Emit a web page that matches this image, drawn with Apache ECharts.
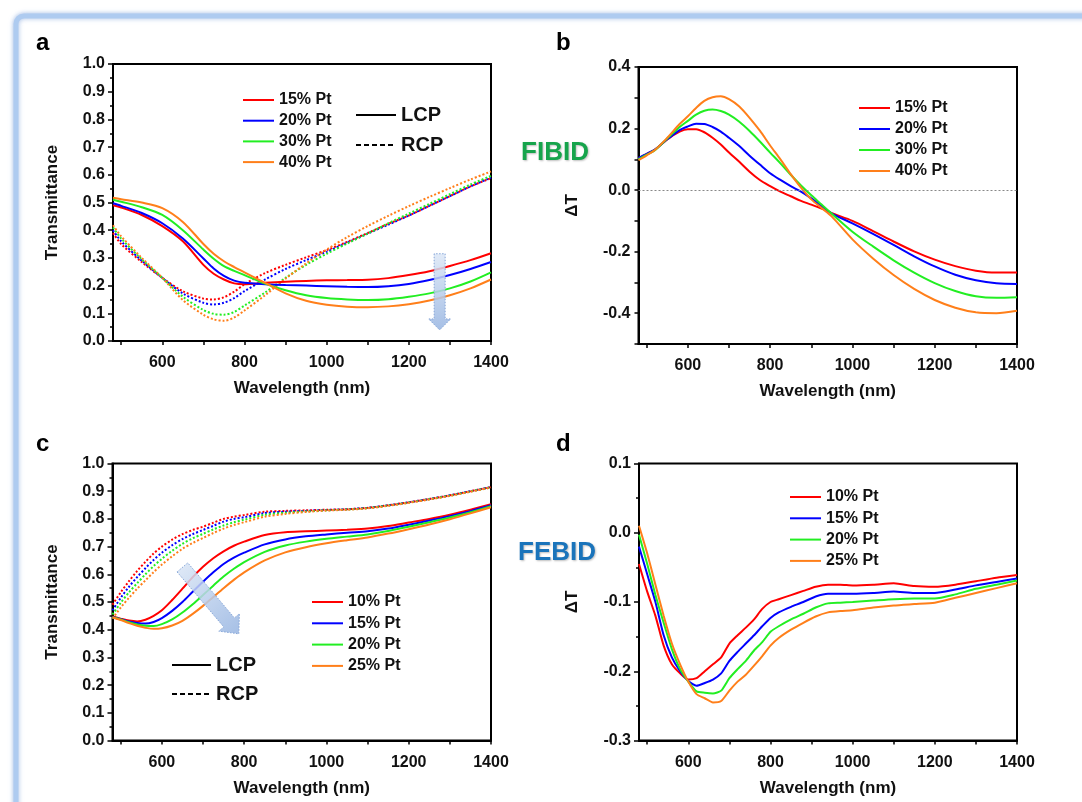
<!DOCTYPE html>
<html>
<head>
<meta charset="utf-8">
<script src="https://cdn.jsdelivr.net/npm/echarts@6/dist/echarts.min.js"></script>
<style>
html,body{margin:0;padding:0;background:#fff;}
#chart{width:1082px;height:802px;}
</style>
</head>
<body>
<div id="chart"></div>
<script>
// ---------------- DATA ----------------
// Panel a (FIBID transmittance)
const aWl = [480,500,550,600,650,700,725,750,775,800,850,900,950,1000,1050,1100,1150,1200,1250,1300,1350,1400];
const aLCP15 = [0.490,0.482,0.455,0.415,0.360,0.275,0.243,0.222,0.208,0.205,0.210,0.214,0.217,0.219,0.220,0.221,0.227,0.238,0.252,0.271,0.292,0.317];
const aLCP20 = [0.497,0.488,0.462,0.425,0.370,0.298,0.262,0.235,0.218,0.210,0.205,0.202,0.200,0.198,0.196,0.195,0.198,0.206,0.220,0.238,0.260,0.285];
const aLCP30 = [0.510,0.503,0.483,0.455,0.400,0.330,0.297,0.270,0.253,0.238,0.207,0.183,0.165,0.155,0.150,0.148,0.151,0.160,0.172,0.190,0.215,0.248];
const aLCP40 = [0.517,0.512,0.500,0.480,0.430,0.350,0.315,0.288,0.267,0.248,0.210,0.172,0.145,0.131,0.124,0.122,0.125,0.133,0.146,0.165,0.190,0.222];
const aRCP15 = [0.390,0.350,0.285,0.228,0.180,0.153,0.150,0.158,0.178,0.205,0.245,0.275,0.302,0.328,0.358,0.390,0.423,0.453,0.488,0.523,0.558,0.588];
const aRCP20 = [0.400,0.360,0.290,0.228,0.172,0.138,0.132,0.138,0.155,0.180,0.222,0.260,0.292,0.322,0.355,0.388,0.420,0.453,0.488,0.523,0.558,0.590];
const aRCP30 = [0.410,0.370,0.295,0.228,0.160,0.112,0.098,0.095,0.105,0.128,0.175,0.228,0.275,0.315,0.352,0.388,0.425,0.460,0.495,0.530,0.565,0.596];
const aRCP40 = [0.418,0.378,0.300,0.228,0.148,0.095,0.078,0.073,0.085,0.110,0.165,0.225,0.280,0.330,0.375,0.415,0.452,0.487,0.520,0.552,0.583,0.612];

// Panel b (FIBID ΔT)
const bWl = [480,500,520,550,580,600,620,640,660,680,700,725,750,775,800,825,850,875,900,925,950,1000,1050,1100,1150,1200,1250,1300,1350,1400];
const b15 = [0.103,0.118,0.132,0.165,0.190,0.198,0.198,0.188,0.170,0.148,0.122,0.092,0.060,0.033,0.013,-0.005,-0.020,-0.035,-0.047,-0.060,-0.075,-0.100,-0.133,-0.167,-0.199,-0.226,-0.247,-0.262,-0.268,-0.268];
const b20 = [0.105,0.118,0.132,0.165,0.195,0.207,0.216,0.215,0.205,0.190,0.170,0.143,0.112,0.083,0.055,0.033,0.013,-0.005,-0.027,-0.052,-0.076,-0.108,-0.142,-0.178,-0.215,-0.248,-0.275,-0.293,-0.303,-0.305];
const b30 = [0.100,0.115,0.130,0.168,0.205,0.225,0.245,0.258,0.262,0.257,0.245,0.222,0.192,0.158,0.122,0.087,0.050,0.015,-0.017,-0.047,-0.077,-0.135,-0.183,-0.228,-0.268,-0.302,-0.328,-0.345,-0.350,-0.348];
const b40 = [0.097,0.113,0.130,0.170,0.215,0.240,0.267,0.290,0.302,0.305,0.296,0.272,0.235,0.193,0.145,0.100,0.052,0.008,-0.030,-0.058,-0.086,-0.160,-0.222,-0.276,-0.321,-0.357,-0.382,-0.397,-0.400,-0.392];

// Panel c (FEBID transmittance)
const cWl = [480,500,520,540,560,580,600,625,650,675,700,725,750,775,800,850,900,950,1000,1050,1100,1150,1200,1250,1300,1350,1400];
const cLCP10 = [0.448,0.440,0.433,0.430,0.436,0.450,0.470,0.507,0.548,0.590,0.627,0.658,0.683,0.703,0.718,0.742,0.752,0.755,0.758,0.761,0.765,0.774,0.787,0.800,0.815,0.833,0.853];
const cLCP15 = [0.446,0.438,0.430,0.424,0.422,0.428,0.442,0.468,0.500,0.537,0.573,0.607,0.637,0.660,0.678,0.708,0.726,0.737,0.744,0.750,0.755,0.765,0.779,0.794,0.810,0.828,0.849];
const cLCP20 = [0.445,0.437,0.427,0.419,0.414,0.413,0.420,0.437,0.462,0.492,0.525,0.559,0.592,0.620,0.644,0.681,0.704,0.718,0.728,0.736,0.744,0.756,0.772,0.788,0.805,0.824,0.846];
const cLCP25 = [0.445,0.435,0.424,0.414,0.407,0.403,0.405,0.415,0.432,0.457,0.486,0.518,0.550,0.580,0.607,0.650,0.679,0.698,0.712,0.723,0.733,0.747,0.763,0.780,0.799,0.820,0.842];
const cRCP10 = [0.490,0.535,0.575,0.612,0.645,0.675,0.700,0.725,0.745,0.760,0.772,0.786,0.800,0.808,0.814,0.826,0.829,0.831,0.833,0.835,0.840,0.849,0.860,0.872,0.885,0.900,0.915];
const cRCP15 = [0.470,0.515,0.555,0.590,0.622,0.652,0.678,0.705,0.727,0.745,0.760,0.775,0.790,0.800,0.806,0.821,0.826,0.829,0.832,0.835,0.840,0.849,0.860,0.872,0.885,0.900,0.915];
const cRCP20 = [0.455,0.497,0.535,0.568,0.600,0.630,0.656,0.685,0.710,0.730,0.746,0.762,0.776,0.788,0.797,0.815,0.822,0.827,0.831,0.834,0.839,0.848,0.859,0.871,0.884,0.899,0.914];
const cRCP25 = [0.440,0.480,0.515,0.548,0.578,0.608,0.635,0.665,0.692,0.713,0.731,0.749,0.765,0.778,0.788,0.808,0.818,0.825,0.830,0.833,0.838,0.847,0.858,0.870,0.883,0.898,0.913];

// Panel d (FEBID ΔT)
const dWl = [480,500,520,540,560,580,600,620,640,660,680,700,720,740,760,780,800,820,850,880,910,940,970,1000,1050,1100,1150,1200,1250,1300,1350,1400];
const d10 = [-0.045,-0.085,-0.120,-0.163,-0.190,-0.203,-0.212,-0.210,-0.200,-0.190,-0.180,-0.160,-0.148,-0.137,-0.125,-0.110,-0.100,-0.096,-0.090,-0.084,-0.078,-0.075,-0.075,-0.076,-0.075,-0.073,-0.077,-0.078,-0.075,-0.070,-0.065,-0.061];
const d15 = [-0.020,-0.060,-0.100,-0.148,-0.180,-0.200,-0.214,-0.221,-0.217,-0.212,-0.203,-0.185,-0.172,-0.160,-0.148,-0.135,-0.123,-0.115,-0.107,-0.100,-0.092,-0.088,-0.088,-0.088,-0.087,-0.085,-0.087,-0.087,-0.082,-0.076,-0.071,-0.066];
const d20 = [-0.003,-0.045,-0.090,-0.130,-0.168,-0.197,-0.215,-0.229,-0.231,-0.232,-0.228,-0.210,-0.197,-0.185,-0.170,-0.158,-0.143,-0.135,-0.125,-0.117,-0.108,-0.102,-0.101,-0.100,-0.098,-0.096,-0.095,-0.095,-0.089,-0.081,-0.075,-0.069];
const d25 = [0.010,-0.030,-0.075,-0.120,-0.160,-0.190,-0.215,-0.233,-0.239,-0.245,-0.243,-0.228,-0.215,-0.205,-0.192,-0.178,-0.163,-0.152,-0.140,-0.130,-0.121,-0.115,-0.113,-0.112,-0.108,-0.105,-0.103,-0.101,-0.094,-0.087,-0.080,-0.073];

// Tick labels
const xTicks = [500,600,700,800,900,1000,1100,1200,1300,1400];
const xLabels = [600,800,1000,1200,1400];
const bYTicks = [-0.5,-0.4,-0.3,-0.2,-0.1,0,0.1,0.2,0.3,0.4];
const bYLabels = [-0.4,-0.2,0,0.2,0.4];

// Legend names
const aNames = ['15% Pt','20% Pt','30% Pt','40% Pt'];
const cNames = ['10% Pt','15% Pt','20% Pt','25% Pt'];

// Trend arrows (data coordinates: from, to)
const arrowA = [[1275, 0.315], [1275, 0.04]];
const arrowC = [[650, 0.625], [787, 0.385]];

// ---------------- STYLE ----------------
const FONT = "'Liberation Sans', Arial, sans-serif";
const COLORS = ['#ff0000', '#0000ff', '#22ee22', '#ff7f1a'];

const chart = echarts.init(document.getElementById('chart'), null, {renderer: 'canvas'});

const grids = [
  {left: 113, top: 64, width: 378, height: 277},
  {left: 638.5, top: 67, width: 378.5, height: 277},
  {left: 112.5, top: 463.5, width: 378.5, height: 277},
  {left: 639, top: 463.5, width: 378, height: 277}
].map(g => Object.assign(g, {show: true, borderColor: '#000', borderWidth: 2, backgroundColor: 'transparent'}));

function xAxis(gi) {
  return {
    type: 'value', gridIndex: gi, min: 480, max: 1400,
    name: 'Wavelength (nm)', nameLocation: 'middle', nameGap: 39,
    nameTextStyle: {fontFamily: FONT, fontWeight: 'bold', fontSize: 17, color: '#111'},
    axisLine: {onZero: false, lineStyle: {color: '#000', width: 2}},
    axisTick: {show: true, inside: false, length: 4, customValues: xTicks, lineStyle: {color: '#000', width: 1.5}},
    axisLabel: {customValues: xLabels, margin: 14, formatter: v => String(v), fontFamily: FONT, fontWeight: 'bold', fontSize: 16, color: '#111'},
    splitLine: {show: false}
  };
}
function yAxisT(gi) {
  return {
    type: 'value', gridIndex: gi, min: 0, max: 1, interval: 0.1,
    name: 'Transmittance', nameLocation: 'middle', nameGap: 52,
    nameTextStyle: {fontFamily: FONT, fontWeight: 'bold', fontSize: 17, color: '#111'},
    axisLine: {onZero: false, lineStyle: {color: '#000', width: 2}},
    axisTick: {show: true, inside: false, length: 5, lineStyle: {color: '#000', width: 1.5}},
    minorTick: {show: true, splitNumber: 2, length: 3, lineStyle: {color: '#000', width: 1.5}},
    axisLabel: {margin: 8, formatter: v => v.toFixed(1), fontFamily: FONT, fontWeight: 'bold', fontSize: 16, color: '#111'},
    splitLine: {show: false}, minorSplitLine: {show: false}
  };
}
const yAxisB = {
  type: 'value', gridIndex: 1, min: -0.5, max: 0.4,
  name: 'ΔT', nameLocation: 'middle', nameGap: 58,
  nameTextStyle: {fontFamily: FONT, fontWeight: 'bold', fontSize: 17, color: '#111'},
  axisLine: {onZero: false, lineStyle: {color: '#000', width: 2}},
  axisTick: {show: true, inside: false, length: 4, customValues: bYTicks, lineStyle: {color: '#000', width: 1.5}},
  axisLabel: {customValues: bYLabels, margin: 8, formatter: v => (Math.abs(v) < 1e-9 ? 0 : v).toFixed(1), fontFamily: FONT, fontWeight: 'bold', fontSize: 16, color: '#111'},
  splitLine: {show: false}
};
const yAxisD = {
  type: 'value', gridIndex: 3, min: -0.3, max: 0.1, interval: 0.1,
  name: 'ΔT', nameLocation: 'middle', nameGap: 58,
  nameTextStyle: {fontFamily: FONT, fontWeight: 'bold', fontSize: 17, color: '#111'},
  axisLine: {onZero: false, lineStyle: {color: '#000', width: 2}},
  axisTick: {show: true, inside: false, length: 5, lineStyle: {color: '#000', width: 1.5}},
  minorTick: {show: true, splitNumber: 2, length: 3, lineStyle: {color: '#000', width: 1.5}},
  axisLabel: {margin: 8, formatter: v => (Math.abs(v) < 1e-9 ? 0 : v).toFixed(1), fontFamily: FONT, fontWeight: 'bold', fontSize: 16, color: '#111'},
  splitLine: {show: false}, minorSplitLine: {show: false}
};

function line(name, gi, xs, ys, color, dotted, smooth) {
  return {
    type: 'line', name: name, xAxisIndex: gi, yAxisIndex: gi,
    data: xs.map((x, i) => [x, ys[i]]),
    symbol: 'none', smooth: smooth, silent: true,
    lineStyle: {color: color, width: 2, type: dotted ? [2, 2] : 'solid'},
    itemStyle: {color: color},
    emphasis: {disabled: true}
  };
}
function dummy(name, gi, dashed) {
  return {
    type: 'line', name: name, xAxisIndex: gi, yAxisIndex: gi, data: [],
    symbol: 'none', silent: true,
    lineStyle: {color: '#000', width: 2, type: dashed ? [5, 3] : 'solid'},
    itemStyle: {color: '#000'}
  };
}

const series = [];
const aL = [aLCP15, aLCP20, aLCP30, aLCP40], aR = [aRCP15, aRCP20, aRCP30, aRCP40];
aR.forEach((ys, i) => series.push(line('aR|' + aNames[i], 0, aWl, ys, COLORS[i], true, 0.3)));
aL.forEach((ys, i) => series.push(line('a|' + aNames[i], 0, aWl, ys, COLORS[i], false, 0.3)));
series.push(dummy('aX|LCP', 0, false), dummy('aX|RCP', 0, true));

[b15, b20, b30, b40].forEach((ys, i) => series.push(line('b|' + aNames[i], 1, bWl, ys, COLORS[i], false, 0.3)));
series[series.length - 4].markLine = {
  silent: true, symbol: 'none', label: {show: false},
  lineStyle: {color: '#888', width: 1, type: [2, 2]},
  data: [{yAxis: 0}]
};

const cL = [cLCP10, cLCP15, cLCP20, cLCP25], cR = [cRCP10, cRCP15, cRCP20, cRCP25];
cR.forEach((ys, i) => series.push(line('cR|' + cNames[i], 2, cWl, ys, COLORS[i], true, 0.3)));
cL.forEach((ys, i) => series.push(line('c|' + cNames[i], 2, cWl, ys, COLORS[i], false, 0.3)));
series.push(dummy('cX|LCP', 2, false), dummy('cX|RCP', 2, true));

[d10, d15, d20, d25].forEach((ys, i) => series.push(line('d|' + cNames[i], 3, dWl, ys, COLORS[i], false, 0.2)));

function legend(data, left, top, fontSize, itemWidth, itemGap) {
  return {
    data: data, left: left, top: top, orient: 'vertical', padding: 0,
    itemWidth: itemWidth, itemHeight: 14, itemGap: itemGap, selectedMode: false,
    itemStyle: {opacity: 0},
    formatter: n => n.split('|')[1],
    textStyle: {fontFamily: FONT, fontWeight: 'bold', fontSize: fontSize, lineHeight: 14, color: '#111'}
  };
}

const option = {
  animation: false,
  backgroundColor: '#fff',
  grid: grids,
  xAxis: [xAxis(0), xAxis(1), xAxis(2), xAxis(3)],
  yAxis: [yAxisT(0), yAxisB, yAxisT(2), yAxisD],
  legend: [
    legend(aNames.map(n => 'a|' + n), 242, 92, 16, 31, 4.7),
    legend(['aX|LCP', 'aX|RCP'], 355, 105, 20, 40, 10),
    legend(aNames.map(n => 'b|' + n), 858, 100, 16, 31, 5),
    legend(cNames.map(n => 'c|' + n), 311, 594, 16, 31, 5.3),
    legend(['cX|LCP', 'cX|RCP'], 171, 655, 20, 39, 9),
    legend(cNames.map(n => 'd|' + n), 789, 489, 16, 31, 5.3)
  ],
  series: series
};
chart.setOption(option);

// ---------------- DECORATIONS ----------------
function blockArrow(gi, from, to, w, hw, hl) {
  const p0 = chart.convertToPixel({xAxisIndex: gi, yAxisIndex: gi}, from);
  const p1 = chart.convertToPixel({xAxisIndex: gi, yAxisIndex: gi}, to);
  const dx = p1[0] - p0[0], dy = p1[1] - p0[1];
  const L = Math.sqrt(dx * dx + dy * dy);
  const ux = dx / L, uy = dy / L, nx = -uy, ny = ux;
  const bx = p1[0] - ux * hl, by = p1[1] - uy * hl;
  const pts = [
    [p0[0] + nx * w, p0[1] + ny * w],
    [bx + nx * w, by + ny * w],
    [bx + nx * hw, by + ny * hw],
    [p1[0], p1[1]],
    [bx - nx * hw, by - ny * hw],
    [bx - nx * w, by - ny * w],
    [p0[0] - nx * w, p0[1] - ny * w]
  ];
  return {
    type: 'polygon', z: 100, silent: true,
    shape: {points: pts},
    style: {
      fill: {type: 'linear', x: 0, y: 0, x2: Math.abs(dx) > 1 ? 1 : 0, y2: 1, global: false,
        colorStops: [{offset: 0, color: 'rgba(220,231,246,0.85)'}, {offset: 1, color: 'rgba(150,180,225,0.85)'}]},
      stroke: '#86a6d8', lineWidth: 1, lineDash: [1.5, 1.5]
    }
  };
}

const textEl = (t, x, y, size, color, extra) => ({
  type: 'text', silent: true, z: 100,
  style: Object.assign({text: t, x: x, y: y, font: 'bold ' + size + 'px ' + FONT, fill: color}, extra || {})
});

chart.setOption({
  graphic: {
    elements: [
      {
        type: 'rect', z: -100, silent: true,
        shape: {x: 16, y: 16, width: 1100, height: 830, r: 8},
        style: {fill: '#fff', stroke: '#aecbf0', lineWidth: 5, shadowBlur: 5, shadowColor: 'rgba(110,150,215,0.6)'}
      },
      textEl('a', 36, 55, 24, '#000', {verticalAlign: 'bottom'}),
      textEl('b', 556, 55, 24, '#000', {verticalAlign: 'bottom'}),
      textEl('c', 36, 456, 24, '#000', {verticalAlign: 'bottom'}),
      textEl('d', 556, 456, 24, '#000', {verticalAlign: 'bottom'}),
      textEl('FIBID', 555, 153, 26, '#16a44c', {align: 'center', verticalAlign: 'middle', textShadowBlur: 2, textShadowColor: 'rgba(0,0,0,0.25)', textShadowOffsetX: 1, textShadowOffsetY: 1}),
      textEl('FEBID', 557, 553, 26, '#1a74bb', {align: 'center', verticalAlign: 'middle', textShadowBlur: 2, textShadowColor: 'rgba(0,0,0,0.25)', textShadowOffsetX: 1, textShadowOffsetY: 1}),
      blockArrow(0, arrowA[0], arrowA[1], 5.5, 11, 11),
      blockArrow(2, arrowC[0], arrowC[1], 7, 13.5, 15)
    ]
  }
});
</script>
</body>
</html>
